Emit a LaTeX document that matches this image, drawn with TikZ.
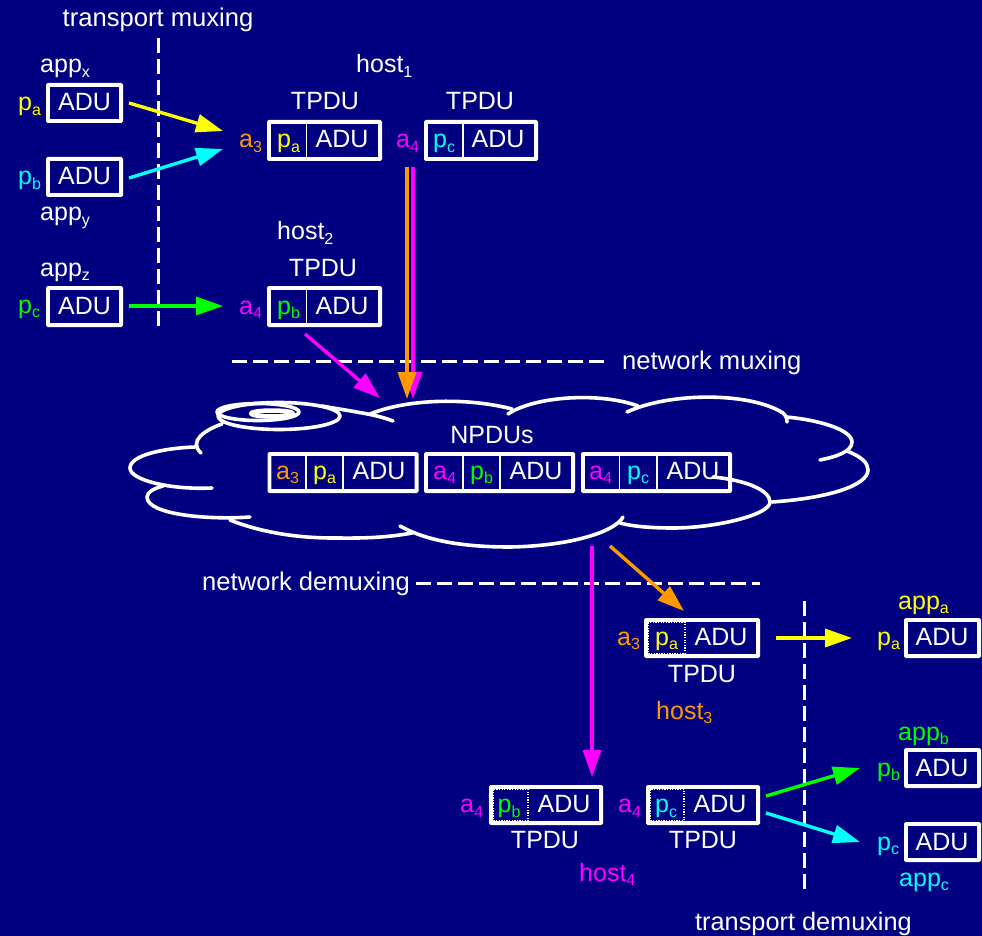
\documentclass[tikz,border=0pt]{standalone}
\usepackage{fontspec}
\setmainfont{Liberation Sans}
\usetikzlibrary{arrows.meta,fit}
\definecolor{navybg}{HTML}{000080}
\definecolor{cyel}{HTML}{FFFF00}
\definecolor{ccya}{HTML}{00FFFF}
\definecolor{cgre}{HTML}{00FF00}
\definecolor{cmag}{HTML}{FF00FF}
\definecolor{cora}{HTML}{FF9900}
\newcommand\lb[2]{#1\raisebox{-4.5pt}{\fontsize{16}{16}\selectfont #2}}
\newcommand\bx[5]{\node[boxst,fit={(#2,#3)(#4,#5)}] (#1) {};}
\newcommand\dv[3]{\draw[divst] (#1,#2) -- (#1,#3);}
\tikzset{
  txt/.style={inner sep=0pt,anchor=base west,text=white,font=\fontsize{25}{30}\selectfont},
  ctr/.style={txt,anchor=base},
  longtxt/.style={font=\fontsize{25.6}{30}\selectfont},
  boxst/.style={draw=white,line width=3.8pt,inner sep=0pt,rounded corners=0.5pt},
  divst/.style={draw=white,line width=1.3pt},
  dotst/.style={draw=white,line width=1.2pt,dash pattern=on 1.3pt off 1.3pt},
  dashst/.style={draw=white,line width=3pt,dash pattern=on 15pt off 6pt},
  arr/.style={line width=3.4pt,-{Triangle[length=27pt,width=18pt]}},
  cloudst/.style={draw=white,line width=3.6pt,line cap=round,line join=round},
}
\begin{document}
\begin{tikzpicture}[x=1pt,y=-1pt]
\useasboundingbox (0,0) rectangle (982,936);
\fill[navybg] (0,0) rectangle (982,936);

% cloud
\begin{scope}[cloudst]
\draw (279,416) ellipse [x radius=61,y radius=13.5];
\draw (258,412) ellipse [x radius=41,y radius=8.5];
\draw[line width=4.5pt] (272,413.5) ellipse [x radius=21,y radius=3];
\draw (393,421) .. controls (375,414) and (355,412) .. (322,406);
\draw (222,424) .. controls (205,430) and (188,441) .. (201,453);
\draw (212,488) .. controls (170,490) and (130,480) .. (130,468) .. controls (130,455) and (165,448) .. (195,447);
\draw (250,517) .. controls (210,520) and (147,515) .. (147,497) .. controls (147,492) and (155,488) .. (163,486);
\draw (412,533) .. controls (380,539) and (350,538) .. (333,538) .. controls (290,538) and (255,530) .. (230,520);
\draw (623,517) .. controls (615,532) and (570,546) .. (510,547) .. controls (460,547) and (425,540) .. (400,526);
\draw (713,477) .. controls (745,480) and (770,490) .. (770,502) .. controls (770,515) and (715,528) .. (673,528) .. controls (655,528) and (635,527) .. (620,523);
\draw (847,451) .. controls (862,457) and (868,463) .. (868,470) .. controls (868,485) and (830,498) .. (772,502);
\draw (786,417) .. controls (820,420) and (852,430) .. (852,442) .. controls (852,452) and (835,457) .. (820,460);
\draw (627,412) .. controls (670,392) and (750,392) .. (783,413) .. controls (786,416) and (787,418) .. (787,422);
\draw (508,414) .. controls (535,396) and (600,392) .. (638,406);
\draw (370,414) .. controls (410,398) and (470,398) .. (512,409);
\end{scope}

% boxes
\bx{adua}{47.9}{84.9}{121.1}{121.1}
\bx{adub}{47.9}{158.9}{121.1}{195.1}
\bx{aduc}{47.9}{287.9}{121.1}{325.1}
\bx{hoa}{268.9}{121.9}{380.1}{159.1} \dv{306.5}{123}{158}
\bx{hob}{425.9}{121.9}{536.1}{159.1} \dv{463}{123}{158}
\bx{hoc}{268.9}{287.9}{380.1}{325.1} \dv{306.5}{289}{324}
\bx{npa}{269.4}{453.9}{416.6}{491.1} \dv{306}{455}{490} \dv{343}{455}{490}
\bx{npb}{425.9}{453.9}{573.1}{491.1} \dv{463}{455}{490} \dv{500}{455}{490}
\bx{npc}{582.9}{453.9}{730.1}{491.1} \dv{619.5}{455}{490} \dv{657}{455}{490}
\bx{hod}{645.9}{619.9}{758.1}{656.1}
\draw[dotst] (648.4,622.4) rectangle (685,653.6);
\bx{hoe}{490.9}{786.9}{601.1}{823.1}
\draw[dotst] (493.4,789.4) rectangle (528,820.6);
\bx{hof}{647.9}{786.9}{758.1}{823.1}
\draw[dotst] (650.4,789.4) rectangle (684,820.6);
\bx{adud}{905.9}{619.9}{979.1}{656.1}
\bx{adue}{905.9}{749.9}{979.1}{786.1}
\bx{aduf}{905.9}{823.9}{979.1}{860.1}

% dashed lines
\coordinate (d1a) at (158,38); \coordinate (d1b) at (158,328);
\coordinate (d2a) at (232,361); \coordinate (d2b) at (604,361);
\coordinate (d3a) at (416,583); \coordinate (d3b) at (760,583);
\coordinate (d4a) at (804,601); \coordinate (d4b) at (804,891);
\draw[dashst] (d1a) -- (d1b);
\draw[dashst] (d2a) -- (d2b);
\draw[dashst] (d3a) -- (d3b);
\draw[dashst] (d4a) -- (d4b);

% arrows
\coordinate (s1) at (129,103); \coordinate (e1) at (223,131);
\coordinate (s2) at (129,178); \coordinate (e2) at (223,149);
\coordinate (s3) at (129,306); \coordinate (e3) at (223,306);
\coordinate (s4) at (305,334); \coordinate (e4) at (380,398);
\coordinate (s5) at (413,167); \coordinate (e5) at (413,399);
\coordinate (s6) at (407,167); \coordinate (e6) at (407,399);
\coordinate (s7) at (592,546); \coordinate (e7) at (592,777);
\coordinate (s8) at (610,546); \coordinate (e8) at (684,611);
\coordinate (s9) at (776,638); \coordinate (e9) at (852,638);
\coordinate (s10) at (766,796); \coordinate (e10) at (860,768);
\coordinate (s11) at (766,813); \coordinate (e11) at (860,842);
\draw[arr,cyel] (s1) -- (e1);
\draw[arr,ccya] (s2) -- (e2);
\draw[arr,cgre] (s3) -- (e3);
\draw[arr,cmag] (s4) -- (e4);
\draw[arr,cmag] (s5) -- (e5);
\draw[arr,cora] (s6) -- (e6);
\draw[arr,cmag] (s7) -- (e7);
\draw[arr,cora] (s8) -- (e8);
\draw[arr,cyel] (s9) -- (e9);
\draw[arr,cgre] (s10) -- (e10);
\draw[arr,ccya] (s11) -- (e11);

% top-left texts
\node[ctr,longtxt] (t1) at (158,27) {transport muxing};
\node[txt] (t2) at (40,73) {\lb{app}{x}};
\node[txt,text=cyel] (t3) at (18,111) {\lb{p}{a}};
\node[ctr] (t4) at (84.5,111) {ADU};
\node[txt,text=ccya] (t5) at (18,185) {\lb{p}{b}};
\node[ctr] (t6) at (84.5,185) {ADU};
\node[txt] (t7) at (40,221) {\lb{app}{y}};
\node[txt] (t8) at (40,276) {\lb{app}{z}};
\node[txt,text=cgre] (t9) at (18,313) {\lb{p}{c}};
\node[ctr] (t10) at (84.5,314) {ADU};
% host1
\node[txt] (t11) at (356,73) {\lb{host}{1}};
\node[ctr] (t12) at (325,110) {TPDU};
\node[ctr] (t13) at (480,110) {TPDU};
\node[txt,text=cora] (t14) at (239,148) {\lb{a}{3}};
\node[txt,text=cyel] (t15) at (277,148) {\lb{p}{a}};
\node[ctr] (t16) at (342,148) {ADU};
\node[txt,text=cmag] (t17) at (396,148) {\lb{a}{4}};
\node[txt,text=ccya] (t18) at (433,148) {\lb{p}{c}};
\node[ctr] (t19) at (498,148) {ADU};
% host2
\node[txt] (t20) at (277,240) {\lb{host}{2}};
\node[ctr] (t21) at (323,276) {TPDU};
\node[txt,text=cmag] (t22) at (239,314) {\lb{a}{4}};
\node[txt,text=cgre] (t23) at (277,314) {\lb{p}{b}};
\node[ctr] (t24) at (342,314) {ADU};
% network
\node[txt,longtxt] (t25) at (622,369) {network muxing};
\node[ctr] (t26) at (492,443) {NPDUs};
\node[txt,text=cora] (t27) at (276,479) {\lb{a}{3}};
\node[txt,text=cyel] (t28) at (313,479) {\lb{p}{a}};
\node[ctr] (t29) at (379,479) {ADU};
\node[txt,text=cmag] (t30) at (433,479) {\lb{a}{4}};
\node[txt,text=cgre] (t31) at (470,479) {\lb{p}{b}};
\node[ctr] (t32) at (536,479) {ADU};
\node[txt,text=cmag] (t33) at (589,479) {\lb{a}{4}};
\node[txt,text=ccya] (t34) at (627,479) {\lb{p}{c}};
\node[ctr] (t35) at (693,479) {ADU};
\node[txt,longtxt] (t36) at (202,590) {network demuxing};
% host3
\node[txt,text=cora] (t37) at (617,645) {\lb{a}{3}};
\node[txt,text=cyel] (t38) at (655,645) {\lb{p}{a}};
\node[ctr] (t39) at (721,645) {ADU};
\node[ctr] (t40) at (702,682) {TPDU};
\node[txt,text=cora] (t41) at (656,719) {\lb{host}{3}};
% right apps
\node[txt,text=cyel] (t42) at (898,609) {\lb{app}{a}};
\node[txt,text=cyel] (t43) at (877,645) {\lb{p}{a}};
\node[ctr] (t44) at (942,645) {ADU};
\node[txt,text=cgre] (t45) at (898,740) {\lb{app}{b}};
\node[txt,text=cgre] (t46) at (877,776) {\lb{p}{b}};
\node[ctr] (t47) at (942,776) {ADU};
\node[txt,text=ccya] (t48) at (877,850) {\lb{p}{c}};
\node[ctr] (t49) at (942,850) {ADU};
\node[txt,text=ccya] (t50) at (899,886) {\lb{app}{c}};
% host4
\node[txt,text=cmag] (t51) at (460,812.5) {\lb{a}{4}};
\node[txt,text=cgre] (t52) at (497.5,812.5) {\lb{p}{b}};
\node[ctr] (t53) at (564,812.5) {ADU};
\node[ctr] (t54) at (545,848) {TPDU};
\node[txt,text=cmag] (t55) at (618,812.5) {\lb{a}{4}};
\node[txt,text=ccya] (t56) at (655,812.5) {\lb{p}{c}};
\node[ctr] (t57) at (720,812.5) {ADU};
\node[ctr] (t58) at (703,848) {TPDU};
\node[txt,text=cmag] (t59) at (579,881) {\lb{host}{4}};
\node[txt,font=\fontsize{25.3}{30}\selectfont] (t60) at (695,930.5) {transport demuxing};
\end{tikzpicture}
\end{document}
